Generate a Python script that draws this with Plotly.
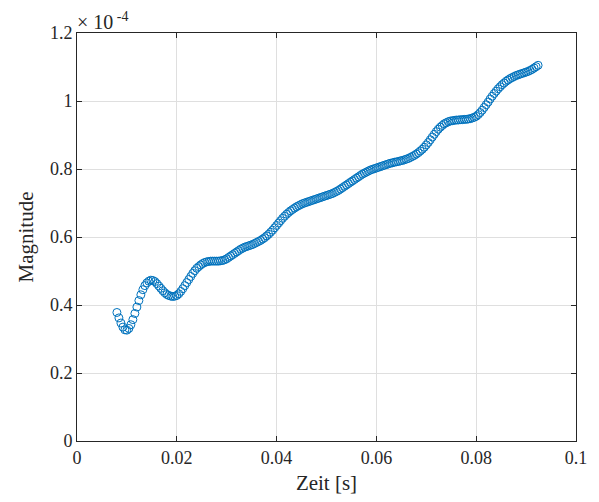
import plotly.graph_objects as go

# Sampling of the magnitude trace
t_start = 0.008      # s
t_step = 0.0004      # s

# Magnitude samples, in units of 1e-4
magnitude_e4 = [
    0.378, 0.362, 0.347, 0.335, 0.327, 0.326, 0.331, 0.342, 0.357, 0.375,
    0.394, 0.413, 0.430, 0.445, 0.457, 0.465, 0.470, 0.473, 0.472, 0.469,
    0.463, 0.456, 0.449, 0.442, 0.436, 0.431, 0.428, 0.426, 0.425, 0.426,
    0.428, 0.433, 0.440, 0.448, 0.457, 0.466, 0.475, 0.484, 0.493, 0.501,
    0.508, 0.513, 0.518, 0.522, 0.525, 0.527, 0.528, 0.529, 0.529, 0.529,
    0.529, 0.529, 0.530, 0.531, 0.533, 0.536, 0.540, 0.544, 0.548, 0.552,
    0.556, 0.560, 0.564, 0.567, 0.570, 0.572, 0.574, 0.576, 0.578, 0.581,
    0.584, 0.587, 0.590, 0.594, 0.598, 0.603, 0.608, 0.614, 0.620, 0.627,
    0.634, 0.641, 0.648, 0.655, 0.661, 0.667, 0.672, 0.677, 0.681, 0.685,
    0.689, 0.692, 0.695, 0.698, 0.700, 0.702, 0.704, 0.706, 0.708, 0.710,
    0.712, 0.714, 0.716, 0.718, 0.720, 0.722, 0.724, 0.726, 0.728, 0.731,
    0.734, 0.737, 0.741, 0.745, 0.749, 0.753, 0.757, 0.761, 0.765, 0.769,
    0.773, 0.777, 0.781, 0.785, 0.788, 0.791, 0.794, 0.797, 0.799, 0.801,
    0.803, 0.805, 0.807, 0.809, 0.811, 0.813, 0.815, 0.817, 0.818, 0.820,
    0.821, 0.822, 0.824, 0.825, 0.827, 0.829, 0.831, 0.834, 0.837, 0.840,
    0.844, 0.848, 0.853, 0.858, 0.864, 0.871, 0.878, 0.886, 0.894, 0.902,
    0.910, 0.917, 0.923, 0.928, 0.933, 0.936, 0.939, 0.941, 0.942, 0.943,
    0.944, 0.944, 0.945, 0.945, 0.946, 0.946, 0.947, 0.948, 0.950, 0.952,
    0.955, 0.960, 0.966, 0.973, 0.981, 0.989, 0.997, 1.006, 1.014, 1.022,
    1.029, 1.036, 1.042, 1.048, 1.053, 1.058, 1.062, 1.066, 1.069, 1.072,
    1.075, 1.077, 1.079, 1.081, 1.083, 1.085, 1.087, 1.090, 1.093, 1.097,
    1.101, 1.105,
]
magnitude = [v * 1e-4 for v in magnitude_e4]

x_ticks = [0, 0.02, 0.04, 0.06, 0.08, 0.1]
x_ticklabels = ["0", "0.02", "0.04", "0.06", "0.08", "0.1"]
y_ticks_e4 = [0, 0.2, 0.4, 0.6, 0.8, 1.0, 1.2]
y_ticklabels = ["0", "0.2", "0.4", "0.6", "0.8", "1", "1.2"]

FONT = "Liberation Serif"
AX_COLOR = "#262626"
GRID_COLOR = "#dfdfdf"
BLUE = "#0072BD"

fig = go.Figure(
    go.Scatter(
        x0=t_start,
        dx=t_step,
        y=magnitude,
        mode="markers",
        marker=dict(
            symbol="circle-open",
            size=8,
            color=BLUE,
            line=dict(width=1, color=BLUE),
        ),
        showlegend=False,
    )
)

axis_common = dict(
    showline=True,
    linecolor=AX_COLOR,
    linewidth=1,
    mirror="allticks",
    ticks="inside",
    ticklen=5,
    tickcolor=AX_COLOR,
    tickwidth=1,
    showgrid=True,
    gridcolor=GRID_COLOR,
    gridwidth=1,
    zeroline=False,
    tickfont=dict(family=FONT, size=18, color=AX_COLOR),
    title_font=dict(family=FONT, size=21, color=AX_COLOR),
)

fig.update_xaxes(
    range=[0, 0.1],
    tickvals=x_ticks,
    ticktext=x_ticklabels,
    title_text="Zeit [s]",
    title_standoff=8,
    **axis_common,
)
fig.update_yaxes(
    range=[0, 1.2e-4],
    tickvals=[v * 1e-4 for v in y_ticks_e4],
    ticktext=y_ticklabels,
    title_text="Magnitude",
    title_standoff=10,
    **axis_common,
)

fig.add_annotation(
    xref="paper", yref="paper",
    x=0.0, y=1.0,
    xanchor="left", yanchor="bottom",
    text="× 10<sup> -4</sup>",
    showarrow=False,
    font=dict(family=FONT, size=20, color=AX_COLOR),
    xshift=-2,
    yshift=-2,
)

fig.update_layout(
    width=599,
    height=502,
    margin=dict(l=77, r=17, t=33, b=60),
    plot_bgcolor="white",
    paper_bgcolor="white",
)

fig.write_html("out.html")
